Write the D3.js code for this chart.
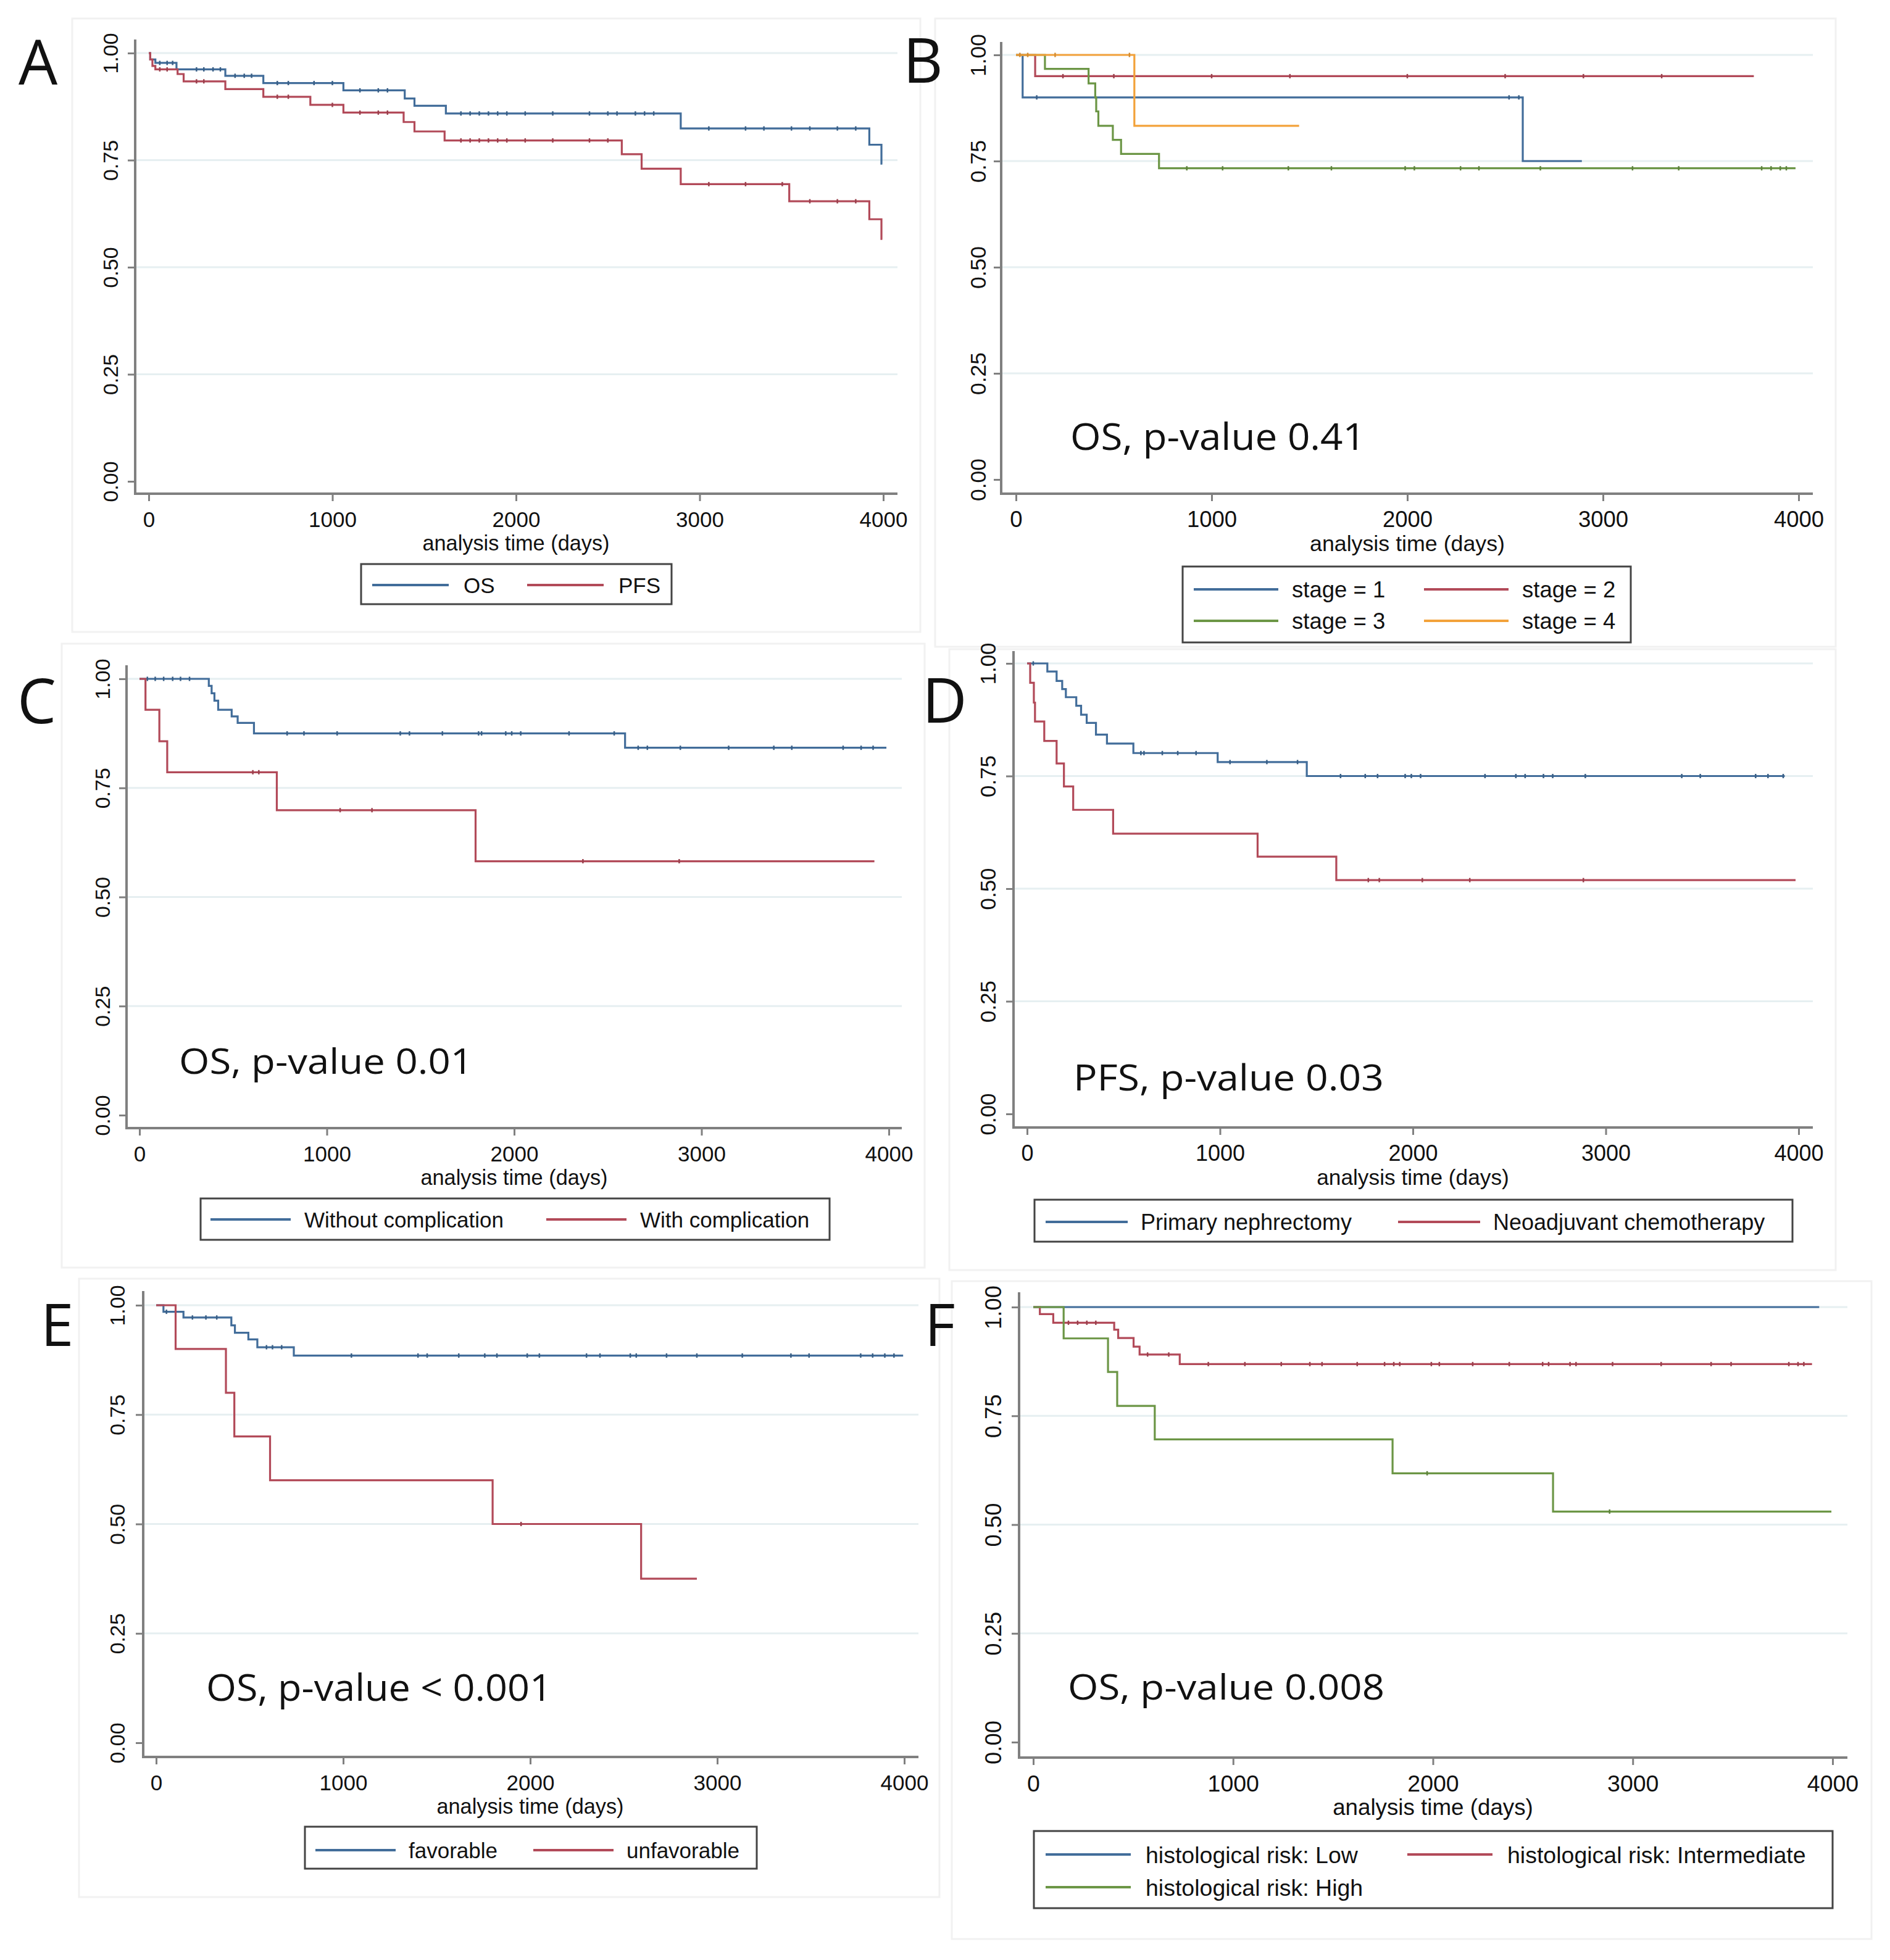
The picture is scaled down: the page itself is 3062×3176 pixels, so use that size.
<!DOCTYPE html>
<html>
<head>
<meta charset="utf-8">
<script src="https://cdn.jsdelivr.net/npm/d3@7"></script>
<style>
  body { margin: 0; background: #fff; }
  svg text { font-family: "Liberation Sans", Arial, sans-serif; fill: #111; }
  svg text.big { font-family: "Open Sans", "Noto Sans", sans-serif; }
</style>
</head>
<body>
<svg id="chart" width="3062" height="3176"></svg>
<script>
// ---- ticks ----
var xTicks = [0, 1000, 2000, 3000, 4000];
var yTicks = [0, 0.25, 0.5, 0.75, 1];
var gridTicks = [0.25, 0.5, 0.75, 1];
var xTitle = "analysis time (days)";

// ---- A : OS vs PFS ----
var aLabels = ["OS", "PFS"];
var aOsTime = [0, 8, 36, 151, 417, 624, 1060, 1394, 1447, 1618, 2897, 3924, 3990, 3995];
var aOsSurv = [1, 0.985, 0.977, 0.962, 0.947, 0.930, 0.913, 0.894, 0.877, 0.859, 0.824, 0.786, 0.742, 0.742];
var aOsCens = [60, 100, 130, 260, 300, 350, 390, 470, 520, 560, 700, 760, 900, 1000, 1150, 1250, 1300, 1700, 1750, 1800, 1850, 1900, 1950, 2050, 2200, 2400, 2500, 2550, 2650, 2700, 2750, 3050, 3250, 3350, 3500, 3600, 3750, 3850];
var aPfsTime = [0, 8, 20, 36, 157, 190, 417, 624, 880, 1060, 1388, 1447, 1611, 2576, 2684, 2897, 3488, 3924, 3990, 3995];
var aPfsSurv = [1, 0.985, 0.970, 0.962, 0.951, 0.934, 0.916, 0.898, 0.879, 0.861, 0.839, 0.817, 0.796, 0.764, 0.730, 0.694, 0.654, 0.612, 0.566, 0.566];
var aPfsCens = [60, 100, 260, 300, 700, 760, 1000, 1150, 1250, 1300, 1700, 1750, 1800, 1850, 1900, 1950, 2050, 2200, 2400, 2500, 3050, 3250, 3450, 3600, 3750, 3850];

// ---- B : stage ----
var bLabels = ["stage = 1", "stage = 2", "stage = 3", "stage = 4"];
var bS1Time = [0, 34, 2590, 2892];
var bS1Surv = [1, 0.9, 0.75, 0.75];
var bS1Cens = [106, 2520, 2570];
var bS2Time = [0, 98, 3771];
var bS2Surv = [1, 0.95, 0.95];
var bS2Cens = [240, 500, 1000, 1400, 2000, 2500, 2900, 3300];
var bS3Time = [0, 148, 371, 405, 410, 421, 495, 537, 731, 3984];
var bS3Surv = [1, 0.967, 0.933, 0.9, 0.867, 0.833, 0.8, 0.767, 0.733, 0.733];
var bS3Cens = [873, 1056, 1392, 1612, 1989, 2036, 2272, 2366, 2680, 3151, 3387, 3811, 3859, 3906, 3937];
var bS4Time = [0, 605, 1447];
var bS4Surv = [1, 0.833, 0.833];
var bS4Cens = [20, 60, 200, 580];

// ---- C : complication ----
var cLabels = ["Without complication", "With complication"];
var cWoTime = [0, 370, 385, 400, 420, 492, 524, 611, 2592, 3987];
var cWoSurv = [1, 0.984, 0.967, 0.95, 0.929, 0.914, 0.899, 0.875, 0.842, 0.842];
var cWoCens = [42, 84, 129, 177, 219, 267, 788, 878, 1055, 1392, 1441, 1617, 1810, 1826, 1955, 1987, 2035, 2293, 2534, 2662, 2711, 2887, 3145, 3386, 3482, 3756, 3852, 3916];
var cWiTime = [0, 32, 106, 148, 733, 1794, 3923];
var cWiSurv = [1, 0.929, 0.857, 0.786, 0.699, 0.582, 0.582];
var cWiCens = [605, 637, 1071, 1241, 2367, 2881];

// ---- D : surgery ----
var dLabels = ["Primary nephrectomy", "Neoadjuvant chemotherapy"];
var dPrTime = [0, 105, 153, 182, 201, 255, 280, 309, 357, 414, 551, 988, 1450, 3928];
var dPrSurv = [1, 0.982, 0.961, 0.943, 0.925, 0.906, 0.886, 0.868, 0.842, 0.822, 0.801, 0.781, 0.750, 0.750];
var dPrCens = [32, 590, 606, 701, 781, 876, 1052, 1243, 1402, 1625, 1753, 1817, 1960, 1992, 2040, 2374, 2534, 2582, 2677, 2725, 2894, 3394, 3490, 3777, 3841, 3920];
var dNeTime = [0, 16, 35, 41, 89, 153, 191, 239, 446, 1195, 1603, 3984];
var dNeSurv = [1, 0.957, 0.913, 0.871, 0.828, 0.778, 0.727, 0.675, 0.622, 0.571, 0.519, 0.519];
var dNeCens = [1769, 1826, 2049, 2295, 2884];

// ---- E : risk group ----
var eLabels = ["favorable", "unfavorable"];
var eFaTime = [0, 39, 146, 402, 421, 493, 541, 736, 3994];
var eFaSurv = [1, 0.985, 0.972, 0.954, 0.937, 0.922, 0.904, 0.885, 0.885];
var eFaCens = [55, 104, 194, 266, 324, 590, 622, 671, 1044, 1400, 1449, 1618, 1757, 1822, 1984, 2049, 2301, 2373, 2535, 2567, 2729, 2891, 3134, 3394, 3491, 3767, 3831, 3896, 3945];
var eUnTime = [0, 104, 373, 418, 609, 1799, 2593, 2891];
var eUnSurv = [1, 0.9, 0.8, 0.7, 0.6, 0.5, 0.375, 0.375];
var eUnCens = [1951];

// ---- F : histological risk ----
var fLabels = ["histological risk: Low", "histological risk: Intermediate", "histological risk: High"];
var fLoTime = [0, 3933];
var fLoSurv = [1, 1];
var fLoCens = [];
var fInTime = [0, 33, 100, 405, 425, 502, 532, 733, 3897];
var fInSurv = [1, 0.984, 0.964, 0.948, 0.929, 0.909, 0.891, 0.869, 0.869];
var fInCens = [176, 222, 268, 313, 572, 678, 876, 1059, 1241, 1384, 1445, 1621, 1758, 1804, 1834, 1992, 2032, 2199, 2382, 2549, 2579, 2686, 2716, 2899, 3142, 3392, 3492, 3781, 3827, 3856];
var fHiTime = [0, 152, 374, 420, 608, 1798, 2601, 3994];
var fHiSurv = [1, 0.928, 0.851, 0.773, 0.696, 0.618, 0.530, 0.530];
var fHiCens = [1971, 2884];

// colours (Stata-like)
var blue = "#426d9a", red = "#b24a59", green = "#6c9646", orange = "#f3a23a";

function km(time, surv, cens, color) { return {time: time, surv: surv, cens: cens, color: color}; }

// layout of the six panels
var panels = [
  {letter: "A", lx: 30, ly: 137, lfs: 100, frame: [117, 30, 1491, 1024],
   yAxisX: 219, x0: 241, x1: 1431, right: 1454, s1: 86, s0: 780, axisY: 800, top: 64, fs: 35, yLab: 40,
   legend: {box: [585, 914, 1088, 979], cols: [603, 854], rows: [948], len: 124, gap: 24},
   labels: aLabels,
   curves: [km(aOsTime, aOsSurv, aOsCens, blue), km(aPfsTime, aPfsSurv, aPfsCens, red)]},
  {letter: "B", lx: 1463, ly: 134, lfs: 100, frame: [1515, 30, 2974, 1048],
   yAxisX: 1622, x0: 1646, x1: 2914, right: 2937, s1: 89, s0: 777, axisY: 800, top: 68, fs: 36.5, yLab: 38,
   legend: {box: [1916, 918, 2642, 1041], cols: [1934, 2307], rows: [955, 1006], len: 137, gap: 22},
   labels: bLabels,
   note: {text: "OS, p-value 0.41", x: 1734, y: 729, w: 478, fs: 60},
   curves: [km(bS1Time, bS1Surv, bS1Cens, blue), km(bS2Time, bS2Surv, bS2Cens, red),
            km(bS3Time, bS3Surv, bS3Cens, green), km(bS4Time, bS4Surv, bS4Cens, orange)]},
  {letter: "C", lx: 28, ly: 1172, lfs: 100, frame: [100, 1043, 1498, 2054],
   yAxisX: 205, x0: 226, x1: 1440, right: 1461, s1: 1100, s0: 1807, axisY: 1828, top: 1078, fs: 35, yLab: 39,
   legend: {box: [325, 1942, 1344, 2009], cols: [341, 885], rows: [1976], len: 130, gap: 22},
   labels: cLabels,
   note: {text: "OS, p-value 0.01", x: 290, y: 1740, w: 476, fs: 57},
   curves: [km(cWoTime, cWoSurv, cWoCens, blue), km(cWiTime, cWiSurv, cWiCens, red)]},
  {letter: "D", lx: 1494, ly: 1171, lfs: 100, frame: [1538, 1052, 2974, 2058],
   yAxisX: 1642, x0: 1664, x1: 2914, right: 2937, s1: 1075, s0: 1805, axisY: 1827, top: 1055, fs: 36, yLab: 42,
   legend: {box: [1676, 1944, 2904, 2012], cols: [1694, 2265], rows: [1980], len: 133, gap: 21},
   labels: dLabels,
   note: {text: "PFS, p-value 0.03", x: 1739, y: 1767, w: 503, fs: 58},
   curves: [km(dPrTime, dPrSurv, dPrCens, blue), km(dNeTime, dNeSurv, dNeCens, red)]},
  {letter: "E", lx: 66, ly: 2181, lfs: 96, frame: [128, 2072, 1522, 3074],
   yAxisX: 232, x0: 253, x1: 1465, right: 1488, s1: 2115, s0: 2824, axisY: 2847, top: 2092, fs: 35, yLab: 42,
   legend: {box: [494, 2960, 1226, 3028], cols: [511, 864], rows: [2998], len: 130, gap: 21},
   labels: eLabels,
   note: {text: "OS, p-value < 0.001", x: 334, y: 2756, w: 560, fs: 60},
   curves: [km(eFaTime, eFaSurv, eFaCens, blue), km(eUnTime, eUnSurv, eUnCens, red)]},
  {letter: "F", lx: 1498, ly: 2181, lfs: 96, frame: [1542, 2076, 3032, 3142],
   yAxisX: 1651, x0: 1674, x1: 2969, right: 2993, s1: 2118, s0: 2823, axisY: 2848, top: 2094, fs: 37.5, yLab: 42,
   legend: {box: [1675, 2967, 2969, 3092], cols: [1694, 2280], rows: [3005, 3058], len: 138, gap: 24},
   labels: fLabels,
   note: {text: "OS, p-value 0.008", x: 1730, y: 2754, w: 513, fs: 57},
   curves: [km(fLoTime, fLoSurv, fLoCens, blue), km(fInTime, fInSurv, fInCens, red), km(fHiTime, fHiSurv, fHiCens, green)]}
];

var svg = d3.select("#chart");
var axisCol = "#808080";

panels.forEach(function(p) {
  var g = svg.append("g").attr("class", "panel-" + p.letter);

  // faint graph region
  g.append("rect")
    .attr("x", p.frame[0]).attr("y", p.frame[1])
    .attr("width", p.frame[2] - p.frame[0]).attr("height", p.frame[3] - p.frame[1])
    .attr("fill", "#fff").attr("stroke", "#f1f1f1").attr("stroke-width", 3);

  var x = d3.scaleLinear().domain([0, 4000]).range([p.x0, p.x1]);
  var y = d3.scaleLinear().domain([0, 1]).range([p.s0, p.s1]);

  // grid lines
  g.selectAll(".grid").data(gridTicks).enter().append("line")
    .attr("x1", p.yAxisX).attr("x2", p.right)
    .attr("y1", function(d) { return y(d); }).attr("y2", function(d) { return y(d); })
    .attr("stroke", "#e6eff1").attr("stroke-width", 3);

  // survival curves
  var line = d3.line()
    .x(function(d) { return x(d[0]); })
    .y(function(d) { return y(d[1]); })
    .curve(d3.curveStepAfter);

  p.curves.forEach(function(c) {
    var pts = c.time.map(function(t, i) { return [t, c.surv[i]]; });
    g.append("path").datum(pts)
      .attr("d", line)
      .attr("fill", "none").attr("stroke", c.color).attr("stroke-width", 3.2);

    // censoring marks (small, barely above the line)
    g.selectAll(null).data(c.cens).enter().append("line")
      .attr("x1", function(d) { return x(d); }).attr("x2", function(d) { return x(d); })
      .attr("y1", function(d) { return y(c.surv[d3.bisectRight(c.time, d) - 1]) - 3.5; })
      .attr("y2", function(d) { return y(c.surv[d3.bisectRight(c.time, d) - 1]) + 3.5; })
      .attr("stroke", d3.color(c.color).darker(0.4)).attr("stroke-width", 2.5);
  });

  // axes
  var gx = g.append("g").attr("transform", "translate(0," + p.axisY + ")")
    .call(d3.axisBottom(x).tickValues(xTicks).tickSize(12).tickFormat(d3.format("d")));
  gx.attr("font-size", null).attr("font-family", null);
  gx.select(".domain").remove();
  gx.selectAll(".tick line").attr("stroke", axisCol).attr("stroke-width", 3);
  gx.selectAll(".tick text").attr("fill", "#111").attr("font-size", p.fs)
    .attr("y", 41).attr("dy", "0.36em");

  var gy = g.append("g").attr("transform", "translate(" + p.yAxisX + ",0)")
    .call(d3.axisLeft(y).tickValues(yTicks).tickSize(12).tickFormat(d3.format(".2f")));
  gy.attr("font-size", null).attr("font-family", null);
  gy.select(".domain").remove();
  gy.selectAll(".tick line").attr("stroke", axisCol).attr("stroke-width", 3);
  gy.selectAll(".tick text").attr("fill", "#111").attr("font-size", p.fs * 0.97)
    .attr("transform", "rotate(-90)").attr("text-anchor", "middle")
    .attr("x", 0).attr("y", -p.yLab).attr("dy", "0.36em");

  g.append("line").attr("x1", p.yAxisX).attr("x2", p.yAxisX).attr("y1", p.top).attr("y2", p.axisY + 2)
    .attr("stroke", axisCol).attr("stroke-width", 4);
  g.append("line").attr("x1", p.yAxisX).attr("x2", p.right).attr("y1", p.axisY).attr("y2", p.axisY)
    .attr("stroke", axisCol).attr("stroke-width", 4);

  g.append("text").attr("x", (p.x0 + p.x1) / 2).attr("y", p.axisY + 80).attr("dy", "0.36em")
    .attr("text-anchor", "middle").attr("font-size", p.fs * 0.98).text(xTitle);

  // legend
  var L = p.legend;
  g.append("rect").attr("x", L.box[0]).attr("y", L.box[1])
    .attr("width", L.box[2] - L.box[0]).attr("height", L.box[3] - L.box[1])
    .attr("fill", "#fff").attr("stroke", "#444").attr("stroke-width", 3);
  var items = g.selectAll(".leg").data(p.curves).enter().append("g")
    .attr("transform", function(d, i) {
      var col = i % L.cols.length, row = Math.floor(i / L.cols.length);
      return "translate(" + L.cols[col] + "," + L.rows[row] + ")";
    });
  items.append("line").attr("x1", 0).attr("x2", L.len).attr("y1", 0).attr("y2", 0)
    .attr("stroke", function(d) { return d.color; }).attr("stroke-width", 4);
  items.append("text").attr("x", L.len + L.gap).attr("dy", "0.36em")
    .attr("font-size", p.fs).text(function(d, i) { return p.labels[i]; });

  // p-value note
  if (p.note) {
    g.append("text").attr("class", "big")
      .attr("x", p.note.x).attr("y", p.note.y)
      .attr("font-size", p.note.fs)
      .attr("textLength", p.note.w).attr("lengthAdjust", "spacingAndGlyphs")
      .text(p.note.text);
  }

  // panel letter
  g.append("text").attr("class", "big")
    .attr("x", p.lx).attr("y", p.ly).attr("font-size", p.lfs)
    .text(p.letter);
});
</script>
</body>
</html>
